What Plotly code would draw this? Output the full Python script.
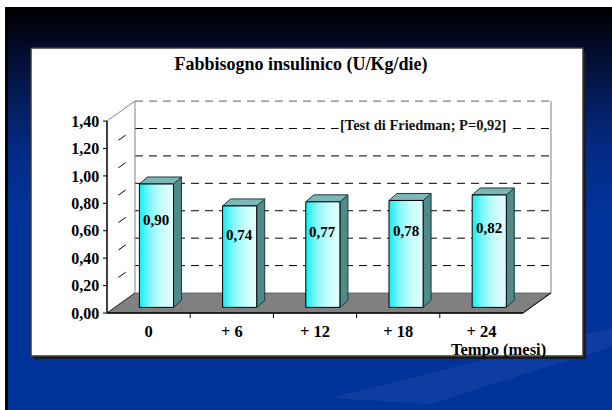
import plotly.graph_objects as go

# ---- data -------------------------------------------------------------
categories = ["0", "+ 6", "+ 12", "+ 18", "+ 24"]
values = [0.90, 0.74, 0.77, 0.78, 0.82]
y_ticks = [0.0, 0.2, 0.4, 0.6, 0.8, 1.0, 1.2, 1.4]
y_tick_labels = ["0,00", "0,20", "0,40", "0,60", "0,80", "1,00", "1,20", "1,40"]
grid_levels = [0.2, 0.4, 0.6, 0.8, 1.0, 1.2]
title_text = "Fabbisogno insulinico (U/Kg/die)"
x_title = "Tempo (mesi)"
test_note = "[Test di Friedman; P=0,92]"

# ---- canvas / scale geometry -----------------------------------------
W, H = 612, 410
CAT_PX = 83.2     # pixels per category
VAL_PX = 137.1    # pixels per value unit
ORIGIN_X = 107    # pixel column of the front-left corner of the floor
ORIGIN_Y = 313    # pixel row of the front edge of the floor
x_range = [-0.57, 4.93]
y_range = [-0.045, 1.60]


def px_x(v):
    return ORIGIN_X + (v + 0.5) * CAT_PX


def px_y(v):
    return ORIGIN_Y - v * VAL_PX


x_domain = [px_x(x_range[0]) / W, px_x(x_range[1]) / W]
y_domain = [(H - px_y(y_range[0])) / H, (H - px_y(y_range[1])) / H]

# 3-D look: depth of the chart box and of each bar, in data units
DX, DY = 28 / CAT_PX, 20 / VAL_PX
BDX, BDY = 8 / CAT_PX, 7 / VAL_PX
FRONT = 0.28          # where the bars stand inside the floor depth
BW = 0.41             # bar width (category units)
X_LO, X_HI = -0.5, len(categories) - 0.5
Y_TOP = y_ticks[-1]

SERIF = "Liberation Serif"
fig = go.Figure()


def bg_poly(xs, ys, color, line_color=None, line_width=0, **kw):
    fig.add_trace(go.Scatter(
        x=list(xs) + [xs[0]], y=list(ys) + [ys[0]], mode="lines",
        fill="toself", fillcolor=color,
        line=dict(color=line_color or color, width=line_width),
        hoverinfo="skip", showlegend=False, xaxis="x", yaxis="y", **kw))


def poly(xs, ys, color, line_color="black", line_width=1, **kw):
    fig.add_trace(go.Scatter(
        x=list(xs) + [xs[0]], y=list(ys) + [ys[0]], mode="lines",
        fill="toself", fillcolor=color,
        line=dict(color=line_color, width=line_width),
        hoverinfo="skip", showlegend=False, xaxis="x2", yaxis="y2", **kw))


def seg(xs, ys, color="black", width=1, dash="solid"):
    fig.add_trace(go.Scatter(
        x=xs, y=ys, mode="lines", line=dict(color=color, width=width, dash=dash),
        hoverinfo="skip", showlegend=False, xaxis="x2", yaxis="y2"))


# ---- slide background (pixel space subplot) ---------------------------
bg_poly([-5, W + 40, W + 40, -5], [-5, -5, H + 5, H + 5], "white")
bg_poly([5, W + 40, W + 40, 5], [7, 7, H + 5, H + 5], "black")
bg_poly([8, W + 40, W + 40, 8], [7, 7, H + 5, H + 5], "#003399",
        fillgradient=dict(type="vertical", start=7, stop=H,
                          colorscale=[[0, "#000000"], [0.1, "#020b28"],
                                      [0.22, "#041b58"], [0.36, "#032b86"],
                                      [0.52, "#003399"], [1, "#003399"]]))
bg_poly([330, W + 40, W + 40, 430], [398, 318, 334, 404], "rgba(90,130,215,0.14)")
bg_poly([34, 586, 586, 34], [51, 51, 359, 359], "#1b1b1b")
bg_poly([31, 583, 583, 31], [48, 48, 356, 356], "white", "#3a3a3a", 1.5)

# ---- chart box: floor, walls, grid ------------------------------------
poly([X_LO, X_HI, X_HI + DX, X_LO + DX], [0, 0, DY, DY], "#808080",
      line_color="#555555", line_width=0.8)
for v in grid_levels:
    seg([X_LO + DX, X_HI + DX], [v + DY, v + DY], "black", 1, "8px,6px")
    seg([X_LO, X_LO + DX], [v, v + DY], "black", 1, "0px,14px,9px,40px")
seg([X_LO + DX, X_HI + DX], [Y_TOP + DY, Y_TOP + DY], "#808080", 1.2, "8px,6px")
seg([X_LO + DX, X_LO + DX], [DY, Y_TOP + DY], "#808080", 1)
seg([X_HI + DX, X_HI + DX], [DY, Y_TOP + DY], "#808080", 1)
seg([X_LO, X_LO + DX], [Y_TOP, Y_TOP + DY], "#808080", 1)
seg([X_LO, X_LO + DX], [0, DY], "#333333", 1)
seg([X_HI, X_HI + DX], [0, DY], "black", 1)
seg([X_LO, X_LO], [0, Y_TOP], "black", 1.5)
seg([X_LO, X_HI], [0, 0], "black", 1.5)
for v in y_ticks:
    seg([X_LO - 4 / CAT_PX, X_LO], [v, v], "black", 1)
for k in range(1, len(categories)):
    seg([k - 0.5, k - 0.5], [0, -5 / VAL_PX], "black", 1)

# ---- bars -------------------------------------------------------------
base = FRONT * DY
for i, v in enumerate(values):
    xl = i + FRONT * DX - BW / 2
    xr = xl + BW
    top = base + v
    # side face
    poly([xr, xr + BDX, xr + BDX, xr], [base, base + BDY, top + BDY, top],
         "#4e8a8a", line_color="#1d3b3b")
    # top face
    poly([xl, xl + BDX, xr + BDX, xr], [top, top + BDY, top + BDY, top],
         "#7cb6b6", line_color="#1d3b3b")
    # front face
    poly([xl, xr, xr, xl], [base, base, top, top], "#9ff8f8",
         line_color="black", line_width=1,
         fillgradient=dict(type="horizontal",
                           colorscale=[[0, "#12eef0"], [0.3, "#80f6f7"],
                                       [0.65, "#c8fcfc"], [1, "#e4ffff"]]))

annotations = []
for i, v in enumerate(values):
    annotations.append(dict(
        x=i + FRONT * DX, y=base + v * 0.71, xref="x2", yref="y2",
        text=f"{v:.2f}".replace(".", ","), showarrow=False,
        xanchor="center", yanchor="middle",
        font=dict(family=SERIF, size=15, color="black", weight="bold")))

annotations.append(dict(
    x=423 / W, y=1 - 125 / H, xref="paper", yref="paper", text=test_note,
    showarrow=False, bgcolor="white", borderpad=1,
    xanchor="center", yanchor="middle",
    font=dict(family=SERIF, size=14.5, color="#111111", weight="bold")))
annotations.append(dict(
    x=498 / W, y=1 - 349.5 / H, xref="paper", yref="paper", text=x_title,
    showarrow=False, xanchor="center", yanchor="middle",
    font=dict(family=SERIF, size=16.5, color="black", weight="bold")))

fig.update_layout(
    width=W, height=H, margin=dict(l=0, r=0, t=0, b=0),
    paper_bgcolor="#003399", plot_bgcolor="rgba(0,0,0,0)",
    template="none", showlegend=False,
    title=dict(text=title_text, x=301 / W, y=1 - 64 / H, xref="paper",
               yref="paper", xanchor="center", yanchor="middle",
               font=dict(family=SERIF, size=18, color="black", weight="bold")),
    xaxis=dict(domain=[0, 1], range=[0, W], visible=False, fixedrange=True),
    yaxis=dict(domain=[0, 1], range=[H, 0], visible=False, fixedrange=True),
    xaxis2=dict(domain=x_domain, range=x_range, anchor="y2",
                showgrid=False, zeroline=False, showline=False, ticks="",
                tickvals=list(range(len(categories))), ticktext=categories,
                ticklabelstandoff=0, automargin=False,
                tickfont=dict(family=SERIF, size=16.5, color="black", weight="bold")),
    yaxis2=dict(domain=y_domain, range=y_range, anchor="x2",
                showgrid=False, zeroline=False, showline=False, ticks="",
                tickvals=y_ticks, ticktext=y_tick_labels,
                ticklabelstandoff=1, automargin=False,
                tickfont=dict(family=SERIF, size=16, color="black", weight="bold")),
    annotations=annotations,
)

fig.write_html(
    "out.html", config=dict(displayModeBar=False),
    post_script="document.documentElement.style.overflow='hidden';"
                "document.body.style.margin='0';"
                "document.body.style.overflow='hidden';")
